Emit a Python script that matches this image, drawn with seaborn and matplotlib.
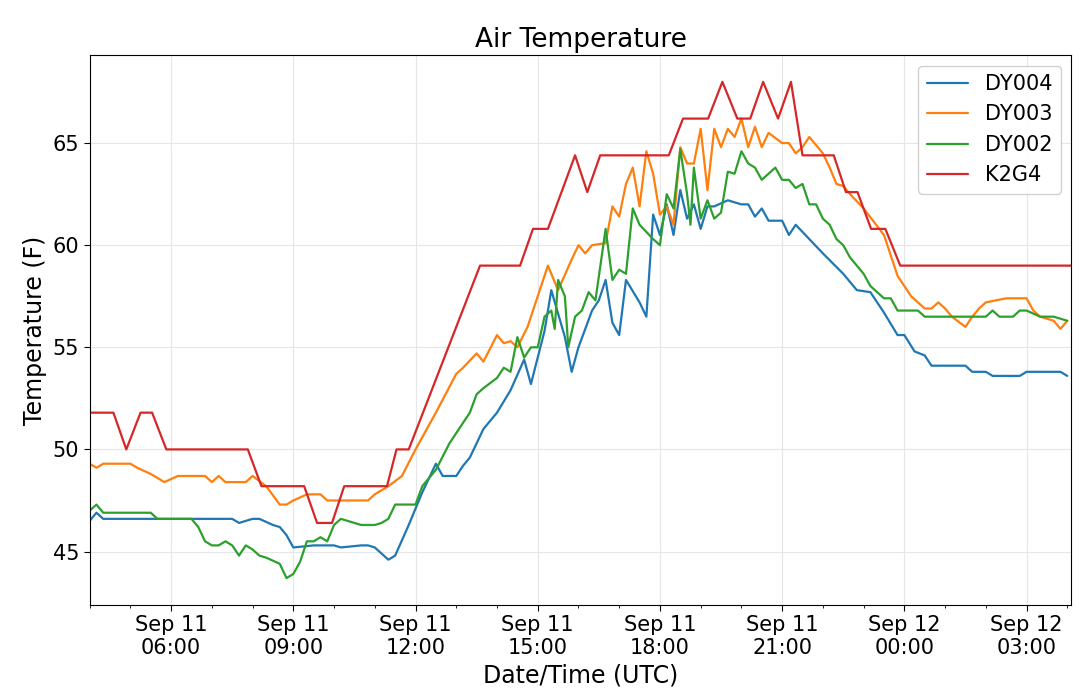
import pandas as pd
import seaborn as sns
import matplotlib
matplotlib.use("Agg")
import matplotlib.pyplot as plt
import matplotlib.dates as mdates

# readings as (clock time UTC, temperature F); times roll over midnight into Sep 12
dy004 = [("04:00",46.5),("04:10",46.9),("04:20",46.6),("06:00",46.6),("07:00",46.6),("07:30",46.6),
         ("07:40",46.4),("08:00",46.6),("08:10",46.6),("08:30",46.3),("08:40",46.2),("08:50",45.8),
         ("09:00",45.2),("09:30",45.3),("10:00",45.3),("10:10",45.2),("10:40",45.3),("10:50",45.3),
         ("11:00",45.2),("11:10",44.9),("11:20",44.6),("11:30",44.8),("11:50",46.3),("12:10",47.9),
         ("12:20",48.6),("12:30",49.3),("12:40",48.7),("13:00",48.7),("13:10",49.2),("13:20",49.6),
         ("13:40",51.0),("14:00",51.8),("14:20",52.9),("14:40",54.4),("14:50",53.2),("15:10",55.8),
         ("15:20",57.8),("15:40",55.5),("15:50",53.8),("16:00",55.0),("16:20",56.8),("16:30",57.3),
         ("16:40",58.3),("16:50",56.2),("17:00",55.6),("17:10",58.3),("17:30",57.2),("17:40",56.5),
         ("17:50",61.5),("18:00",60.5),("18:10",62.0),("18:20",60.5),("18:30",62.7),("18:40",61.3),
         ("18:50",62.0),("19:00",60.8),("19:10",61.9),("19:20",61.9),("19:40",62.2),("20:00",62.0),
         ("20:10",62.0),("20:20",61.4),("20:30",61.8),("20:40",61.2),("21:00",61.2),("21:10",60.5),
         ("21:20",61.0),("21:40",60.3),("22:00",59.6),("22:30",58.6),("22:50",57.8),("23:10",57.7),
         ("23:30",56.7),("23:50",55.6),("00:00",55.6),("00:15",54.8),("00:30",54.6),("00:40",54.1),
         ("01:30",54.1),("01:40",53.8),("02:00",53.8),("02:10",53.6),("02:50",53.6),("03:00",53.8),
         ("03:50",53.8),("04:00",53.6)]

dy003 = [("04:00",49.3),("04:10",49.1),("04:20",49.3),("05:00",49.3),("05:10",49.1),("05:30",48.8),
         ("05:50",48.4),("06:10",48.7),("06:50",48.7),("07:00",48.4),("07:10",48.7),("07:20",48.4),
         ("07:50",48.4),("08:00",48.7),("08:20",48.2),("08:40",47.3),("08:50",47.3),("09:00",47.5),
         ("09:20",47.8),("09:40",47.8),("09:50",47.5),("10:50",47.5),("11:00",47.8),("11:20",48.2),
         ("11:40",48.7),("12:00",50.0),("12:30",51.8),("13:00",53.7),("13:10",54.0),("13:30",54.7),
         ("13:40",54.3),("14:00",55.6),("14:10",55.2),("14:20",55.3),("14:30",55.0),("14:45",56.0),
         ("15:00",57.5),("15:15",59.0),("15:30",57.8),("15:50",59.3),("16:00",60.0),("16:10",59.6),
         ("16:20",60.0),("16:40",60.1),("16:50",61.9),("17:00",61.4),("17:10",63.0),("17:20",63.8),
         ("17:30",61.9),("17:40",64.6),("17:50",63.5),("18:00",61.5),("18:10",61.9),("18:20",61.0),
         ("18:30",64.8),("18:40",64.0),("18:50",64.0),("19:00",65.7),("19:10",62.7),("19:20",65.7),
         ("19:30",64.8),("19:40",65.7),("19:50",65.3),("20:00",66.2),("20:10",64.8),("20:20",65.8),
         ("20:30",64.8),("20:40",65.5),("21:00",65.0),("21:10",65.0),("21:20",64.5),("21:30",64.8),
         ("21:40",65.3),("22:00",64.5),("22:10",63.8),("22:20",63.0),("22:30",62.9),("22:40",62.5),
         ("23:00",61.8),("23:30",60.5),("23:50",58.5),("00:10",57.5),("00:30",56.9),("00:40",56.9),
         ("00:50",57.2),("01:00",56.9),("01:10",56.5),("01:30",56.0),("01:40",56.5),("01:50",56.9),
         ("02:00",57.2),("02:30",57.4),("03:00",57.4),("03:10",56.8),("03:20",56.5),("03:40",56.3),
         ("03:50",55.9),("04:00",56.3)]

dy002 = [("04:00",47.0),("04:10",47.3),("04:20",46.9),("05:30",46.9),("05:40",46.6),("06:30",46.6),
         ("06:40",46.2),("06:50",45.5),("07:00",45.3),("07:10",45.3),("07:20",45.5),("07:30",45.3),
         ("07:40",44.8),("07:50",45.3),("08:00",45.1),("08:10",44.8),("08:20",44.7),("08:40",44.4),
         ("08:50",43.7),("09:00",43.9),("09:10",44.5),("09:20",45.5),("09:30",45.5),("09:40",45.7),
         ("09:50",45.5),("10:00",46.3),("10:10",46.6),("10:20",46.5),("10:40",46.3),("11:00",46.3),
         ("11:10",46.4),("11:20",46.6),("11:30",47.3),("12:00",47.3),("12:10",48.2),("12:30",49.0),
         ("12:50",50.3),("13:10",51.3),("13:20",51.8),("13:30",52.7),("13:40",53.0),("14:00",53.5),
         ("14:10",54.0),("14:20",53.8),("14:30",55.5),("14:40",54.5),("14:50",55.0),("15:00",55.0),
         ("15:10",56.5),("15:20",56.8),("15:25",55.9),("15:30",58.3),("15:40",57.5),("15:45",55.0),
         ("15:55",56.5),("16:05",56.8),("16:15",57.7),("16:25",57.3),("16:40",60.8),("16:50",58.3),
         ("17:00",58.8),("17:10",58.6),("17:20",61.8),("17:30",61.0),("17:50",60.3),("18:00",60.0),
         ("18:10",62.5),("18:20",61.8),("18:30",64.7),("18:40",62.5),("18:45",61.0),("18:50",63.8),
         ("19:00",61.3),("19:10",62.2),("19:20",61.3),("19:30",61.6),("19:40",63.6),("19:50",63.5),
         ("20:00",64.6),("20:10",64.0),("20:20",63.8),("20:30",63.2),("20:40",63.5),("20:50",63.8),
         ("21:00",63.2),("21:10",63.2),("21:20",62.8),("21:30",63.0),("21:40",62.0),("21:50",62.0),
         ("22:00",61.3),("22:10",61.0),("22:20",60.3),("22:30",60.0),("22:40",59.4),("23:00",58.6),
         ("23:10",58.0),("23:30",57.4),("23:40",57.4),("23:50",56.8),("00:20",56.8),("00:30",56.5),
         ("02:00",56.5),("02:10",56.8),("02:20",56.5),("02:40",56.5),("02:50",56.8),("03:00",56.8),
         ("03:20",56.5),("03:40",56.5),("03:50",56.4),("04:00",56.3)]

k2g4 = [("04:00",51.8),("04:35",51.8),("04:54",50.0),("05:15",51.8),("05:32",51.8),("05:53",50.0),
        ("07:53",50.0),("08:13",48.2),("09:16",48.2),("09:35",46.4),("09:57",46.4),("10:15",48.2),
        ("11:18",48.2),("11:32",50.0),("11:50",50.0),("13:35",59.0),("14:34",59.0),("14:53",60.8),
        ("15:15",60.8),("15:55",64.4),("16:13",62.6),("16:32",64.4),("18:13",64.4),("18:34",66.2),
        ("19:11",66.2),("19:32",68.0),("19:54",66.2),("20:13",66.2),("20:32",68.0),("20:54",66.2),
        ("21:13",68.0),("21:30",64.4),("22:16",64.4),("22:34",62.6),("22:51",62.6),("23:11",60.8),
        ("23:32",60.8),("23:54",59.0),("04:06",59.0)]

stations = ["DY004", "DY003", "DY002", "K2G4"]


def to_frame(name, readings):
    # clock strings -> timestamps, moving to the next day after midnight
    rows, day, last = [], pd.Timestamp("2019-09-11"), None
    for clock, temp in readings:
        t = day + pd.Timedelta(clock + ":00")
        if last is not None and t < last:
            day = day + pd.Timedelta(days=1)
            t = t + pd.Timedelta(days=1)
        rows.append((t, temp, name))
        last = t
    return pd.DataFrame(rows, columns=["time", "temp", "station"])


df = pd.concat([to_frame(n, r) for n, r in zip(stations, [dy004, dy003, dy002, k2g4])], ignore_index=True)

sns.set_style("white")
plt.rcParams['font.family'] = ['DejaVu Sans']
plt.rcParams['text.color'] = 'black'
plt.rcParams['axes.labelcolor'] = 'black'
plt.rcParams['xtick.color'] = 'black'
plt.rcParams['ytick.color'] = 'black'

fig, ax = plt.subplots(figsize=(10.8, 6.91), dpi=100)
sns.lineplot(data=df, x="time", y="temp", hue="station", hue_order=stations, palette="tab10",
             estimator=None, sort=False, linewidth=1.6, ax=ax)

ax.set_xlim(pd.Timestamp("2019-09-11 04:00"), pd.Timestamp("2019-09-12 04:06"))
ax.set_ylim(42.4, 69.3)
ax.set_yticks([45, 50, 55, 60, 65])
ax.xaxis.set_major_locator(mdates.HourLocator(byhour=[0, 3, 6, 9, 12, 15, 18, 21]))
ax.xaxis.set_minor_locator(mdates.HourLocator())
ax.xaxis.set_major_formatter(mdates.DateFormatter("%b %d\n%H:%M"))
ax.tick_params(axis="both", which="major", labelsize=15, length=4, direction="out", bottom=True, left=True)
ax.tick_params(axis="x", which="minor", length=2, bottom=True)
ax.grid(True, color="#e6e6e6", linewidth=0.8)
for s in ax.spines.values():
    s.set_color("black")

ax.set_title("Air Temperature", fontsize=19)
ax.set_xlabel("Date/Time (UTC)", fontsize=17)
ax.set_ylabel("Temperature (F)", fontsize=17)
ax.legend(title=None, fontsize=15, loc="upper right", framealpha=0.9)

plt.subplots_adjust(left=0.083, right=0.992, top=0.92, bottom=0.125)
plt.savefig("out.png", dpi=100)
